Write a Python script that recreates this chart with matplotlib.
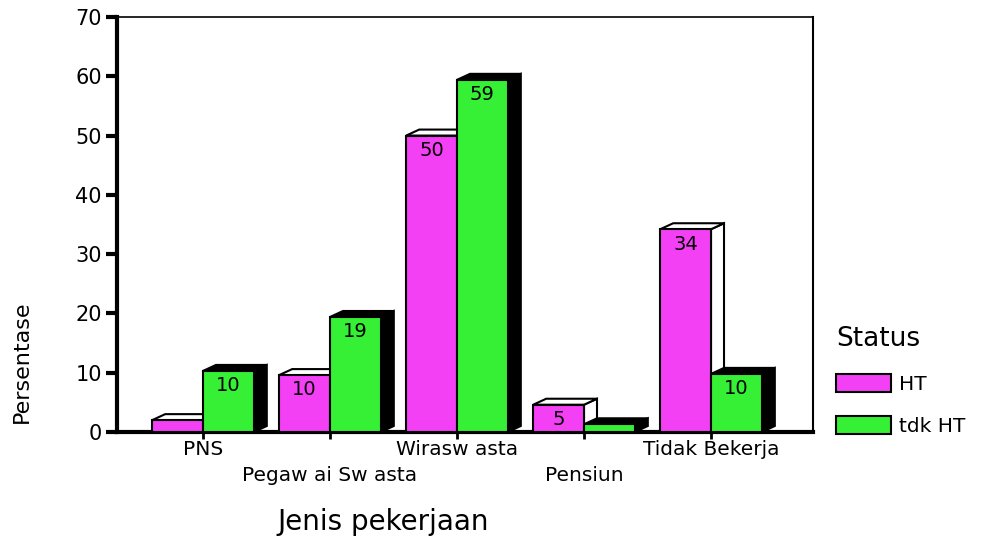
import matplotlib.pyplot as plt
from matplotlib.patches import Polygon, Patch

categories = ['PNS', 'Pegaw ai Sw asta', 'Wirasw asta', 'Pensiun', 'Tidak Bekerja']
ht = [2.0, 9.6, 50.0, 4.6, 34.2]
tdk_ht = [10.3, 19.4, 59.4, 1.3, 9.8]
ht_labels = ['', '10', '50', '5', '34']
tdk_labels = ['10', '19', '59', '', '10']
series = ['HT', 'tdk HT']

PINK = '#f440f4'
GREEN = '#36f036'

fig = plt.figure(figsize=(9.89, 5.36), dpi=100)
ax = fig.add_axes([117 / 989, 1 - 432 / 536, 696 / 989, 415 / 536])
ax.set_xlim(-0.677, 4.803)
ax.set_ylim(0, 70)

w = 0.4
# depth of the fake 3d block, in data units (13 px right, 6 px up)
dx = 13 / 127.0
dy = 6 / (415 / 70.0)


def block(x0, h, front, topc, sidec, label):
    x1 = x0 + w
    ax.add_patch(Polygon([(x1, 0), (x1 + dx, dy), (x1 + dx, h + dy), (x1, h)],
                         closed=True, facecolor=sidec, edgecolor='black', lw=1.5, zorder=2))
    ax.add_patch(Polygon([(x0, h), (x0 + dx, h + dy), (x1 + dx, h + dy), (x1, h)],
                         closed=True, facecolor=topc, edgecolor='black', lw=1.5, zorder=2))
    ax.bar(x0, h, width=w, align='edge', color=front, edgecolor='black', lw=1.5, zorder=3)
    if label:
        ax.text(x0 + w / 2, h - 0.9, label, ha='center', va='top', fontsize=14, zorder=4)


for i in range(len(categories)):
    block(i - w, ht[i], PINK, 'white', 'white', ht_labels[i])
    block(i, tdk_ht[i], GREEN, 'black', 'black', tdk_labels[i])

ax.set_yticks(range(0, 71, 10))
ax.tick_params(axis='y', length=8, width=3, labelsize=15, pad=3)
ax.set_xticks(range(len(categories)))
ax.set_xticklabels([])
ax.tick_params(axis='x', length=5, width=2)
for i, c in enumerate(categories):
    yy = -0.043 if i % 2 == 0 else -0.105
    ax.text(i, yy, c, transform=ax.get_xaxis_transform(), ha='center', va='center', fontsize=14.5)

ax.spines['left'].set_linewidth(3)
ax.spines['bottom'].set_linewidth(3)
ax.spines['top'].set_linewidth(1.2)
ax.spines['right'].set_linewidth(1.5)

fig.text(383 / 989, 1 - 522 / 536, 'Jenis pekerjaan', ha='center', va='center', fontsize=20)
fig.text(22 / 989, 1 - 362 / 536, 'Persentase', ha='center', va='center', rotation=90, fontsize=16)

handles = [Patch(facecolor=PINK, edgecolor='black', lw=1.5),
           Patch(facecolor=GREEN, edgecolor='black', lw=1.5)]
leg = fig.legend(handles, series, title='Status', loc='upper left',
                 bbox_to_anchor=(818 / 989, 1 - 308 / 536), frameon=False,
                 fontsize=14.5, title_fontsize=19, handlelength=2.7, handleheight=1.0,
                 labelspacing=1.1, handletextpad=0.4, alignment='left')

fig.savefig('out.png', dpi=100)
